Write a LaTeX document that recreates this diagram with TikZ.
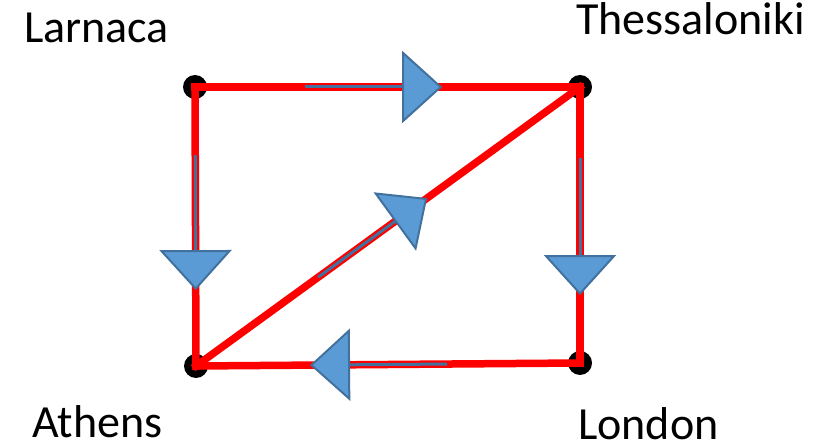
\documentclass[tikz,border=0pt]{standalone}
\usepackage{fontspec}
\setmainfont{Carlito}
\usetikzlibrary{arrows.meta,calc}
\definecolor{routeRed}{RGB}{255, 0, 0}
\definecolor{flowFill}{RGB}{91, 155, 213}
\definecolor{flowEdge}{RGB}{65, 113, 156}

\begin{document}
\begin{tikzpicture}[
  x=1bp, y=-1bp,
  city/.style={circle, fill=black, inner sep=0pt, minimum size=24bp},
  cityname/.style={anchor=base west, inner sep=0pt, font=\fontsize{46.2}{55}\selectfont},
  route/.style={draw=routeRed, line width=7.5bp, line cap=rect},
  flow/.style={draw=flowEdge, line width=3bp,
               -{Triangle[length=40bp, width=72bp, fill=flowFill, line width=2bp]}}
]
\useasboundingbox (0,0) rectangle (835,446);
\node[city] (larnaca) at (195,87) {};
\node[city] (thessaloniki) at (580,87) {};
\node[city] (athens) at (196,366) {};
\node[city] (london) at (580,363) {};
\node[cityname] (larnacaName) at (24,43) {Larnaca};
\node[cityname] (thessalonikiName) at (576,35) {Thessaloniki};
\node[cityname] (athensName) at (32,437) {Athens};
\node[cityname] (londonName) at (578,439) {London};
% red routes
\draw[route] (larnaca.center) -- (thessaloniki.center);
\draw[route] (larnaca.center) -- (athens.center);
\draw[route] (thessaloniki.center) -- (london.center);
\draw[route] (london.center) -- (athens.center);
\draw[route] (athens.center) -- (thessaloniki.center);
% blue flow arrows
\foreach \from/\to/\s/\t in {larnaca/thessaloniki/0.286/0.642,
                             larnaca/athens/0.244/0.728,
                             thessaloniki/london/0.257/0.754,
                             london/athens/0.346/0.703,
                             athens/thessaloniki/0.318/0.602}
  \draw[flow] ($(\from.center)!\s!(\to.center)$) -- ($(\from.center)!\t!(\to.center)$);
\end{tikzpicture}
\end{document}
